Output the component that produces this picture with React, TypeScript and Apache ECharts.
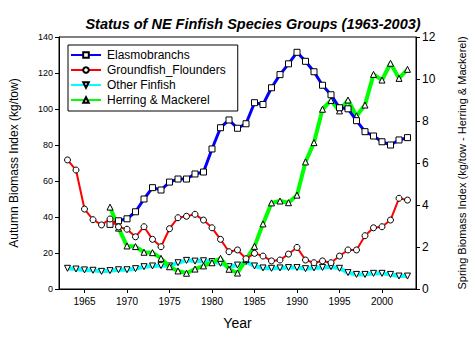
import React, { useEffect, useRef } from "react";
import * as echarts from "echarts";

const years = [
  1963, 1964, 1965, 1966, 1967, 1968, 1969, 1970, 1971, 1972, 1973, 1974, 1975, 1976,
  1977, 1978, 1979, 1980, 1981, 1982, 1983, 1984, 1985, 1986, 1987, 1988, 1989, 1990,
  1991, 1992, 1993, 1994, 1995, 1996, 1997, 1998, 1999, 2000, 2001, 2002, 2003,
];

// Elasmobranchs start in 1968 (null before)
const elasmobranchs = [
  null, null, null, null, null, 35.9, 37.9, 39, 42.9, 50, 56.3, 55, 59.4, 61.1,
  61.1, 63.9, 65, 77.8, 89.6, 93.9, 89.3, 91.8, 103.5, 102.5, 111.8, 119.1, 125.1, 131.5,
  126.5, 120.7, 113.2, 107.9, 100.7, 100.1, 93.5, 87.4, 85, 81.8, 80, 82.8, 84.1,
];

const groundfish = [
  71.7, 66.1, 44.4, 38.5, 35.6, 38.9, 34.5, 33.2, 29, 34.6, 27.6, 23.5, 33.5, 39.6,
  40.4, 41.5, 38.3, 34, 27.6, 20.7, 21.7, 16.8, 19.8, 18.3, 15.6, 16.1, 19.4, 23.1,
  16.1, 14.6, 15.6, 14.6, 18.3, 21.7, 21.7, 29.6, 34, 34.6, 38.3, 50.4, 49.4,
];

const otherFinfish = [
  11.5, 11.1, 10.6, 10.4, 9.8, 10.2, 10.7, 10.7, 11.3, 12.4, 12.8, 13, 12.8, 14.6,
  15.9, 15.5, 15.7, 15.2, 14.3, 12.4, 13.3, 15.2, 12.8, 11.7, 11.5, 11.7, 11.9, 11.9,
  11.3, 11.7, 12, 12.4, 11.5, 9.1, 8.1, 8.1, 8.7, 8.7, 8.1, 7.2, 7.2,
];

// Spring index (right axis), starts in 1968
const herringMackerel = [
  null, null, null, null, null, 3.9, 2.9, 2.05, 2.02, 1.75, 1.73, 1.46, 1.06, 0.86,
  0.75, 0.95, 1.1, 1.25, 1.46, 0.94, 0.76, 1.4, 2.03, 3.1, 4.1, 4.19, 4.11, 4.47,
  6.05, 6.97, 8.56, 8.98, 8.48, 9.0, 8.24, 8.76, 10.22, 9.95, 10.75, 10.03, 10.46,
];

const xTicks = [1965, 1970, 1975, 1980, 1985, 1990, 1995, 2000];

const seriesNames = ["Elasmobranchs", "Groundfish_Flounders", "Other Finfish", "Herring & Mackerel"];

const pairs = (vals: (number | null)[]) =>
  years.map((y, i) => [y, vals[i]]).filter((p) => p[1] !== null);

const FONT = "Liberation Sans, Arial, sans-serif";

export default function App() {
  const ref = useRef<HTMLDivElement>(null);

  useEffect(() => {
    if (!ref.current) return;
    const chart = echarts.init(ref.current, undefined, { renderer: "svg" });
    const markerStyle = { color: "#fff", borderColor: "#000", borderWidth: 1 };
    chart.setOption({
      animation: false,
      backgroundColor: "#fff",
      textStyle: { fontFamily: FONT, color: "#000" },
      title: {
        text: "Status of NE Finfish Species Groups (1963-2003)",
        left: 248,
        top: 11,
        textAlign: "center",
        textStyle: {
          fontFamily: FONT,
          fontSize: 14.5,
          fontWeight: "bold",
          fontStyle: "italic",
          color: "#000",
        },
      },
      legend: {
        data: seriesNames,
        orient: "vertical",
        left: 68,
        top: 45,
        itemWidth: 30,
        itemHeight: 7,
        itemGap: 3,
        padding: [4, 12, 5, 2],
        borderColor: "#000",
        borderWidth: 1,
        backgroundColor: "#fff",
        textStyle: {
          fontFamily: FONT,
          fontSize: 12,
          lineHeight: 12,
          color: "#000",
          padding: [0, 0, 0, 1],
        },
      },
      grid: {
        left: 58,
        right: 55,
        top: 37,
        bottom: 67,
        show: true,
        borderColor: "#000",
        borderWidth: 1,
        containLabel: false,
      },
      xAxis: {
        type: "value",
        min: 1962,
        max: 2004,
        name: "Year",
        nameLocation: "middle",
        nameGap: 27,
        nameTextStyle: { fontFamily: FONT, fontSize: 14, color: "#000" },
        splitLine: { show: false },
        axisLine: { show: true, onZero: false, lineStyle: { color: "#000", width: 1 } },
        axisTick: { show: true, length: 4, lineStyle: { color: "#000" }, customValues: xTicks },
        axisLabel: {
          fontFamily: FONT,
          fontSize: 10,
          color: "#000",
          margin: 7,
          customValues: xTicks,
          formatter: (v: number) => String(v),
        },
      },
      yAxis: [
        {
          type: "value",
          min: 0,
          max: 140,
          interval: 20,
          position: "left",
          name: "Autumn Biomass Index (kg/tow)",
          nameLocation: "middle",
          nameRotate: 90,
          nameGap: 39,
          nameTextStyle: { fontFamily: FONT, fontSize: 12, color: "#000" },
          splitLine: { show: false },
          axisLine: { show: true, lineStyle: { color: "#000" } },
          axisTick: { show: true, length: 4, lineStyle: { color: "#000" } },
          axisLabel: { fontFamily: FONT, fontSize: 9, color: "#000", margin: 6 },
        },
        {
          type: "value",
          min: 0,
          max: 12,
          interval: 2,
          position: "right",
          name: "Spring Biomass Index (kg/tow - Herring & Mackerel)",
          nameLocation: "middle",
          nameRotate: 90,
          nameGap: 40,
          nameTextStyle: { fontFamily: FONT, fontSize: 11, color: "#000" },
          splitLine: { show: false },
          axisLine: { show: true, lineStyle: { color: "#000" } },
          axisTick: { show: true, length: 4, lineStyle: { color: "#000" } },
          axisLabel: { fontFamily: FONT, fontSize: 12, color: "#000", margin: 6 },
        },
      ],
      series: [
        {
          name: "Other Finfish",
          type: "line",
          yAxisIndex: 0,
          data: pairs(otherFinfish),
          symbol: "triangle",
          symbolRotate: 180,
          symbolSize: 6,
          showAllSymbol: true,
          color: "#00FFFF",
          lineStyle: { color: "#00FFFF", width: 4 },
          itemStyle: markerStyle,
          z: 2,
        },
        {
          name: "Herring & Mackerel",
          type: "line",
          yAxisIndex: 1,
          data: pairs(herringMackerel),
          symbol: "triangle",
          symbolSize: 6,
          showAllSymbol: true,
          color: "#00FF00",
          lineStyle: { color: "#00FF00", width: 4 },
          itemStyle: markerStyle,
          z: 3,
        },
        {
          name: "Elasmobranchs",
          type: "line",
          yAxisIndex: 0,
          data: pairs(elasmobranchs),
          symbol: "rect",
          symbolSize: 6,
          showAllSymbol: true,
          color: "#0000FF",
          lineStyle: { color: "#0000FF", width: 3 },
          itemStyle: markerStyle,
          z: 4,
        },
        {
          name: "Groundfish_Flounders",
          type: "line",
          yAxisIndex: 0,
          data: pairs(groundfish),
          symbol: "circle",
          symbolSize: 6,
          showAllSymbol: true,
          color: "#FF0000",
          lineStyle: { color: "#FF0000", width: 2 },
          itemStyle: markerStyle,
          z: 5,
        },
      ],
    });
    return () => chart.dispose();
  }, []);

  return (
    <div
      ref={ref}
      style={{ position: "fixed", left: 0, top: 0, width: 475, height: 356, background: "#fff" }}
    />
  );
}
